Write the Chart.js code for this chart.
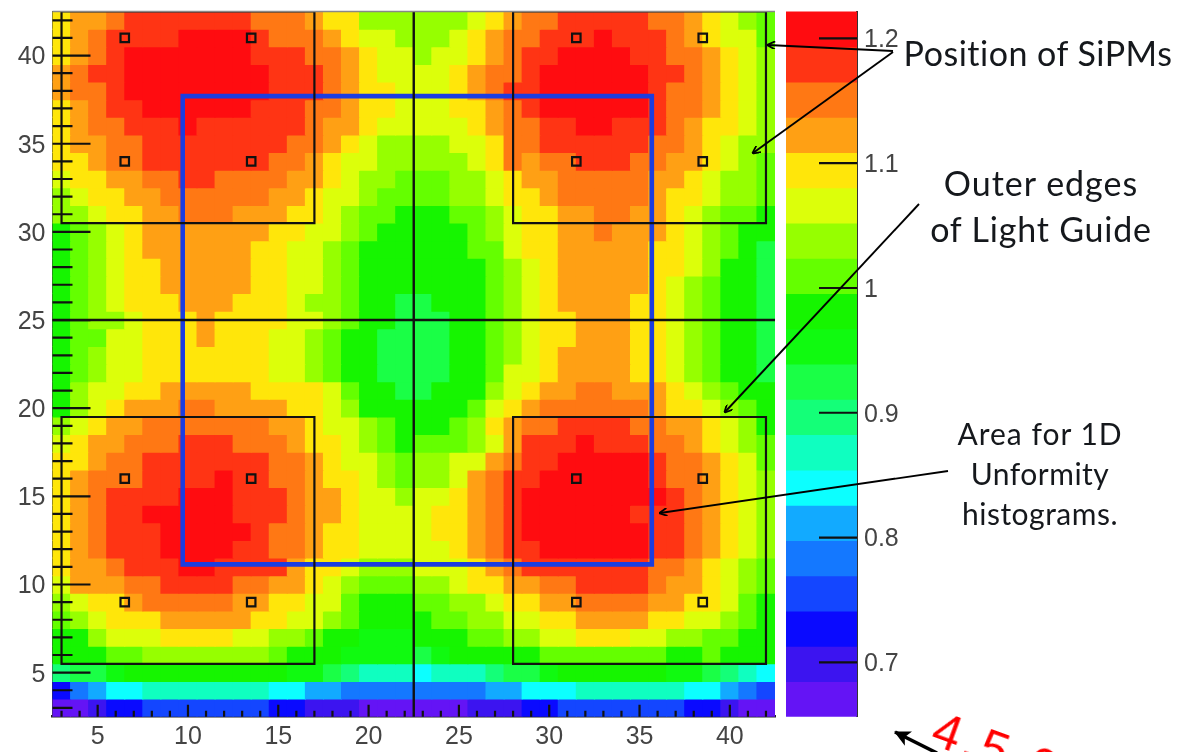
<!DOCTYPE html>
<html>
<head>
<meta charset="utf-8">
<title>SiPM light guide uniformity</title>
<script src="https://cdn.jsdelivr.net/npm/chart.js@4"></script>
<style>
html,body{margin:0;padding:0;background:#fff;width:1179px;height:752px;overflow:hidden}
canvas{position:absolute;left:0;top:0;filter:blur(0.5px)}
svg{position:absolute;left:0;top:0}
.note{position:absolute;font-family:Lato,sans-serif;color:#15181c;white-space:nowrap;transform:translateX(-50%);line-height:1;filter:blur(0.3px)}
.red{position:absolute;font-family:"Liberation Sans",sans-serif;color:#ff0000;font-size:50px;line-height:1;white-space:nowrap;transform-origin:0 0;letter-spacing:4px}
</style>
</head>
<body>
<canvas id="heat" width="1179" height="752"></canvas>
<canvas id="bar" width="1179" height="752"></canvas>
<svg width="1179" height="752" viewBox="0 0 1179 752">
<defs>
<marker id="ah" markerWidth="9" markerHeight="8" refX="8" refY="4" orient="auto" markerUnits="userSpaceOnUse"><path d="M9 4 L1 0 M9 4 L1 8" stroke="#000" stroke-width="1.8" fill="none"/></marker>
<marker id="ah2" markerWidth="18" markerHeight="16" refX="17" refY="8" orient="auto" markerUnits="userSpaceOnUse"><path d="M18 8 L2 0 L6 8 L2 16 Z" fill="#000"/></marker>
</defs>
<g stroke="#000" stroke-width="1.9" fill="none">
<line x1="893" y1="51" x2="768" y2="45" marker-end="url(#ah)"/>
<line x1="893" y1="52" x2="753" y2="153" marker-end="url(#ah)"/>
<line x1="919" y1="204" x2="725" y2="412" marker-end="url(#ah)"/>
<line x1="948" y1="471" x2="660" y2="513" marker-end="url(#ah)"/>
<line x1="937" y1="753" x2="895" y2="732" stroke-width="3.6" marker-end="url(#ah2)"/>
</g>
</svg>
<div class="note" style="left:1038px;top:36px;font-size:34px;letter-spacing:.5px">Position of SiPMs</div>
<div class="note" style="left:1041px;top:166px;font-size:34px;letter-spacing:1px">Outer edges</div>
<div class="note" style="left:1041px;top:212px;font-size:34px;letter-spacing:.8px">of Light Guide</div>
<div class="note" style="left:1040px;top:418px;font-size:30px;letter-spacing:1px">Area for 1D</div>
<div class="note" style="left:1040px;top:458px;font-size:30px;letter-spacing:.5px">Unformity</div>
<div class="note" style="left:1040px;top:498px;font-size:30px;letter-spacing:.5px">histograms.</div>
<div class="red" style="left:943px;top:704px;transform:rotate(20deg)">4.5.6</div>
<script>
// Axes
const xCells = [3,4,5,6,7,8,9,10,11,12,13,14,15,16,17,18,19,20,21,22,23,24,25,26,27,28,29,30,31,32,33,34,35,36,37,38,39,40,41,42];
const yCells = [42,41,40,39,38,37,36,35,34,33,32,31,30,29,28,27,26,25,24,23,22,21,20,19,18,17,16,15,14,13,12,11,10,9,8,7,6,5,4,3];
const xTickValues = [5,10,15,20,25,30,35,40];
const yTickValues = [5,10,15,20,25,30,35,40];
const zTickValues = [0.7,0.8,0.9,1.0,1.1,1.2];

// Colour-band number of every cell (band 1 = top of the colour bar)
const bandRows = [
[5,4,4,3,2,2,2,2,2,2,2,3,3,3,4,5,5,7,7,7, 7,7,7,6,5,4,3,3,2,2,2,2,2,3,3,4,5,6,7,8],
[5,4,3,2,2,2,2,1,1,1,1,2,3,3,3,4,5,6,6,7, 7,7,6,5,4,3,3,2,2,2,1,2,2,2,3,4,5,6,6,8],
[5,4,3,2,1,1,1,1,1,1,1,2,2,2,3,3,4,5,6,6, 7,6,6,5,4,3,2,2,1,1,1,1,2,2,3,3,4,5,6,7],
[4,3,2,2,1,1,1,1,1,1,1,1,2,2,2,3,4,5,6,6, 6,6,5,4,3,3,2,1,1,1,1,1,1,2,2,3,4,5,6,7],
[4,3,3,2,1,1,1,1,1,1,1,1,2,2,2,3,4,5,5,6, 6,6,5,4,3,2,2,1,1,1,1,1,1,2,3,3,4,5,6,7],
[5,4,3,2,2,1,1,1,1,1,1,2,2,2,3,3,4,5,5,6, 6,6,5,5,4,3,2,1,1,1,1,1,1,2,3,3,4,5,6,7],
[5,4,3,3,2,2,2,1,2,2,2,2,2,2,3,4,4,5,6,6, 6,6,6,5,4,3,3,2,2,1,1,2,2,2,3,4,5,5,6,7],
[5,4,4,3,3,2,2,2,2,2,2,2,2,3,3,4,5,6,7,7, 7,7,6,6,5,3,3,2,2,2,2,2,2,3,3,4,5,6,7,7],
[5,5,4,3,3,2,2,2,2,2,2,2,3,3,4,5,6,6,7,7, 7,7,7,6,5,3,4,3,3,2,2,2,3,3,4,4,5,6,7,8],
[6,5,5,4,4,3,3,2,2,3,3,3,3,4,4,5,6,7,7,8, 8,8,7,7,6,5,4,4,3,3,3,3,3,4,4,5,6,7,7,8],
[7,6,5,5,4,4,3,3,3,3,3,3,4,4,5,6,6,7,8,8, 8,8,7,7,6,5,5,4,3,3,3,3,3,4,5,5,6,7,7,8],
[7,7,6,5,5,4,4,3,3,3,4,4,4,5,5,6,7,8,8,9, 9,9,8,8,7,6,5,5,4,4,3,3,4,4,5,6,7,8,8,9],
[9,8,7,6,5,4,4,4,4,4,4,4,5,5,6,6,7,8,9,9, 9,9,9,8,7,6,5,5,4,4,3,4,4,4,5,6,7,8,9,9],
[9,8,7,6,5,4,4,4,4,4,4,5,5,6,6,7,8,9,9,9, 9,9,9,8,8,6,5,5,4,4,4,4,4,5,5,6,7,8,9,11],
[9,8,7,6,5,5,4,4,4,4,4,5,5,6,6,7,8,9,9,9, 9,9,9,9,8,7,6,5,4,4,4,4,4,5,5,6,7,9,9,11],
[9,8,7,6,5,5,4,4,4,4,4,5,5,6,6,7,8,9,9,9, 9,9,9,9,8,7,6,5,4,4,4,4,4,5,6,7,8,9,9,11],
[9,8,7,6,5,5,5,4,4,4,5,5,5,6,7,7,8,9,9,11, 11,9,9,9,8,7,6,5,4,4,4,4,5,5,6,7,8,9,9,11],
[9,8,7,7,6,5,5,5,4,5,5,5,5,6,6,7,8,9,9,11, 11,11,9,9,8,7,6,5,5,4,4,4,5,5,6,7,8,9,9,11],
[9,8,8,6,6,5,5,5,4,5,5,5,6,6,7,8,9,9,11,11, 11,11,9,9,8,7,6,5,5,4,4,4,5,5,6,7,8,9,9,11],
[9,8,7,6,6,5,5,5,5,5,5,5,6,6,7,8,9,9,11,11, 11,11,9,9,8,7,6,5,4,4,4,4,5,5,6,7,8,9,9,11],
[9,8,7,6,6,5,5,5,5,5,5,5,6,6,7,8,9,9,11,11, 11,11,9,9,8,6,6,5,4,4,4,4,5,5,6,7,8,9,9,11],
[9,7,6,6,5,5,4,4,4,4,4,5,5,5,5,6,8,9,9,11, 11,9,9,9,7,6,5,4,4,3,3,4,4,4,5,6,7,8,9,9],
[9,7,6,5,4,4,4,3,3,4,4,4,4,5,5,6,7,9,9,9, 9,9,9,8,6,5,4,3,3,3,3,3,3,4,5,5,6,7,8,9],
[7,6,5,4,4,3,3,3,3,3,3,3,4,4,5,6,6,7,8,9, 9,9,8,7,5,4,3,3,2,2,2,2,3,3,4,4,5,6,7,9],
[6,5,4,4,3,3,3,2,2,2,3,3,3,4,5,5,6,7,8,9, 8,8,8,7,6,4,2,2,2,1,2,2,2,3,3,4,5,6,7,8],
[5,5,4,3,3,2,2,2,2,2,2,2,3,3,4,5,6,6,7,8, 7,7,6,6,4,3,2,2,1,1,1,1,1,2,3,3,4,5,6,8],
[5,4,3,3,3,2,2,2,2,1,2,2,3,3,4,5,5,6,7,8, 7,7,6,4,3,2,2,1,1,1,1,1,1,2,3,3,4,5,6,7],
[5,4,3,2,2,2,2,1,1,1,2,2,2,3,4,4,5,6,6,7, 6,6,5,4,3,2,1,1,1,1,1,1,1,1,2,3,4,5,6,7],
[5,4,3,2,2,1,1,1,1,1,2,2,2,3,4,4,5,6,6,6, 6,5,5,4,3,2,1,1,1,1,1,1,2,2,2,3,4,5,6,7],
[5,4,3,2,2,2,1,1,1,1,1,2,3,3,4,5,5,6,6,6, 6,5,5,4,3,2,1,1,1,1,1,1,1,2,2,3,4,5,6,7],
[5,4,3,2,2,2,1,1,1,1,2,2,3,3,4,5,5,6,6,6, 6,6,5,4,3,2,2,1,1,1,1,1,1,2,2,3,4,5,6,7],
[5,4,4,3,2,2,2,1,1,2,2,2,2,4,5,5,6,7,7,7, 6,6,6,5,4,3,2,2,2,2,2,2,2,3,3,4,5,6,7,8],
[6,4,4,4,3,3,2,2,2,2,3,3,4,4,5,6,7,8,8,8, 7,7,6,5,5,4,4,3,3,2,2,2,2,3,4,4,5,6,7,8],
[7,6,5,5,4,3,3,3,3,3,4,4,5,5,6,6,8,9,9,9, 8,8,7,7,6,5,5,4,4,3,3,3,3,4,4,5,5,6,8,9],
[8,7,6,5,5,5,4,4,4,4,4,5,5,6,6,7,8,9,9,9, 9,8,8,7,7,6,6,5,5,4,4,4,4,5,5,6,6,7,8,9],
[9,9,7,6,6,6,5,5,5,5,6,6,7,7,8,9,9,10,10,10, 9,9,9,8,8,7,7,6,6,5,5,5,6,6,7,7,8,8,9,9],
[9,9,9,8,8,7,7,7,7,7,7,7,8,9,9,9,10,10,10,10, 11,10,9,9,9,9,9,8,8,8,8,8,8,8,9,9,8,9,9,9],
[12,11,11,10,9,9,9,9,9,9,9,9,9,10,10,11,12,13,13,13, 14,13,13,13,12,11,11,10,9,9,9,9,9,9,10,10,11,12,13,14],
[18,16,15,14,14,13,13,13,13,13,13,13,14,14,15,15,16,16,16,16, 16,16,16,16,15,15,14,14,14,13,13,13,13,13,13,14,14,15,16,17],
[20,20,19,18,18,17,17,17,17,17,17,17,18,18,19,19,19,20,20,20, 20,20,20,19,19,19,18,18,17,17,17,17,17,17,17,18,18,19,20,20]
];

// Colour bar: top to bottom
const bandColors = ['#ff0c10','#ff3414','#ff7814','#ffa014','#ffe60a','#dcff0a','#96ff00','#64ff00','#16f500','#10fa10','#1aff46','#14ff78','#0fffc0','#0cffff','#12aaff','#1478ff','#1446ff','#0a0aff','#3c14f0','#6414f5'];
const zTop = 1.2216;
const zBottom = 0.6564;

// Overlays (data coordinates)
const guideBoxes = [[3,17,5.5,19.5],[28,42,5.5,19.5],[3,17,30.5,42.5],[28,42,30.5,42.5]];
const uniformityBox = [9.71,35.68,11.14,37.7];
const centreX = 22.5;
const centreY = 25;
const sipmX = [6.5,13.5,31.5,38.5];
const sipmY = [41,34,16,9];

const boxPath = b => [{x:b[0],y:b[2]},{x:b[1],y:b[2]},{x:b[1],y:b[3]},{x:b[0],y:b[3]},{x:b[0],y:b[2]}];
const lineSet = (data,color,width) => ({type:'line',data,order:0,borderColor:color,borderWidth:width,pointRadius:0,fill:false,tension:0,showLine:true,borderJoinStyle:'miter',borderCapStyle:'square'});
const tickFont = {family:'"Liberation Sans",Arial,sans-serif',size:25};
const noPad = s => {s.paddingTop=0;s.paddingBottom=0;s.paddingLeft=0;s.paddingRight=0;};

const cellSets = yCells.map((y,r)=>({
  type:'bar',order:2,
  data:xCells.map(x=>({x,y:[y-0.5,y+0.5]})),
  backgroundColor:bandRows[r].map(b=>bandColors[b-1]),
  borderWidth:0,inflateAmount:0.5,
  barPercentage:1,categoryPercentage:1,grouped:false
}));
const overlaySets = [
  ...guideBoxes.map(b=>lineSet(boxPath(b),'#111',2.2)),
  lineSet([{x:centreX,y:2.5},{x:centreX,y:42.5}],'#111',2.4),
  lineSet([{x:2.5,y:centreY},{x:42.5,y:centreY}],'#111',2.4),
  lineSet(boxPath(uniformityBox),'#1b3de0',4.6),
  {type:'scatter',order:0,data:sipmX.flatMap(x=>sipmY.map(y=>({x,y}))),pointStyle:'rect',pointRadius:6,borderColor:'#111',backgroundColor:'rgba(0,0,0,0)',borderWidth:2.2}
];

const innerTicks = {
  id:'innerTicks',
  afterDatasetsDraw(c){
    const {ctx,chartArea:a,scales:{x,y}} = c;
    ctx.save();
    ctx.strokeStyle='#111';ctx.lineWidth=2.2;
    ctx.beginPath();
    yCells.forEach(v=>{const p=y.getPixelForValue(v);ctx.moveTo(a.left,p);ctx.lineTo(a.left+(v%5===0?38:20),p);});
    xCells.forEach(v=>{const p=x.getPixelForValue(v);ctx.moveTo(p,a.bottom);ctx.lineTo(p,a.bottom-(v%5===0?12:6));});
    ctx.stroke();
    ctx.strokeStyle='#888';ctx.lineWidth=1.5;
    ctx.beginPath();ctx.moveTo(a.left,a.top);ctx.lineTo(a.right,a.top);ctx.stroke();
    ctx.restore();
  }
};

new Chart(document.getElementById('heat'),{
  data:{datasets:[...cellSets,...overlaySets]},
  plugins:[innerTicks],
  options:{
    responsive:false,animation:false,
    layout:{padding:{top:11.5,right:404,left:0,bottom:0}},
    plugins:{legend:{display:false},tooltip:{enabled:false},title:{display:false}},
    scales:{
      x:{type:'linear',min:2.5,max:42.5,offset:false,
        afterBuildTicks:s=>{s.ticks=xTickValues.map(value=>({value}));},
        afterFit:s=>{s.height=35.3;noPad(s);},
        grid:{display:false,drawTicks:false},
        border:{display:true,color:'#222',width:2.5},
        ticks:{autoSkip:false,maxRotation:0,color:'#444',font:tickFont,padding:5}},
      y:{type:'linear',min:2.5,max:42.5,
        afterBuildTicks:s=>{s.ticks=yTickValues.map(value=>({value}));},
        afterFit:s=>{s.width=52.5;noPad(s);},
        grid:{display:false,drawTicks:false},
        border:{display:true,color:'#333',width:2},
        ticks:{autoSkip:false,color:'#444',font:tickFont,padding:7,labelOffset:2}}
    }
  }
});

const bandStep = (zTop-zBottom)/bandColors.length;
const barSets = bandColors.map((color,i)=>({
  data:[[zTop-(i+1)*bandStep,zTop-i*bandStep]],
  backgroundColor:color,borderWidth:0,inflateAmount:0.5,
  barPercentage:1,categoryPercentage:1,grouped:false
}));
const barTicks = {
  id:'barTicks',
  afterDatasetsDraw(c){
    const {ctx,chartArea:a,scales:{y}} = c;
    ctx.save();ctx.strokeStyle='#111';ctx.lineWidth=2.2;ctx.beginPath();
    zTickValues.forEach(v=>{const p=y.getPixelForValue(v);ctx.moveTo(a.right,p);ctx.lineTo(a.right-38,p);});
    ctx.stroke();ctx.restore();
  }
};
new Chart(document.getElementById('bar'),{
  type:'bar',
  data:{labels:['z'],datasets:barSets},
  plugins:[barTicks],
  options:{
    responsive:false,animation:false,
    layout:{padding:{top:11.5,left:786,right:0,bottom:35.3}},
    plugins:{legend:{display:false},tooltip:{enabled:false}},
    scales:{
      x:{display:false},
      y:{position:'right',type:'linear',min:zBottom,max:zTop,
        afterBuildTicks:s=>{s.ticks=zTickValues.map(value=>({value}));},
        afterFit:s=>{s.width=322;noPad(s);},
        grid:{display:false,drawTicks:false},
        border:{display:true,color:'#333',width:2},
        ticks:{autoSkip:false,color:'#444',font:tickFont,padding:7,labelOffset:2,callback:v=>String(Math.round(v*10)/10)}}
    }
  }
});
</script>
</body>
</html>
